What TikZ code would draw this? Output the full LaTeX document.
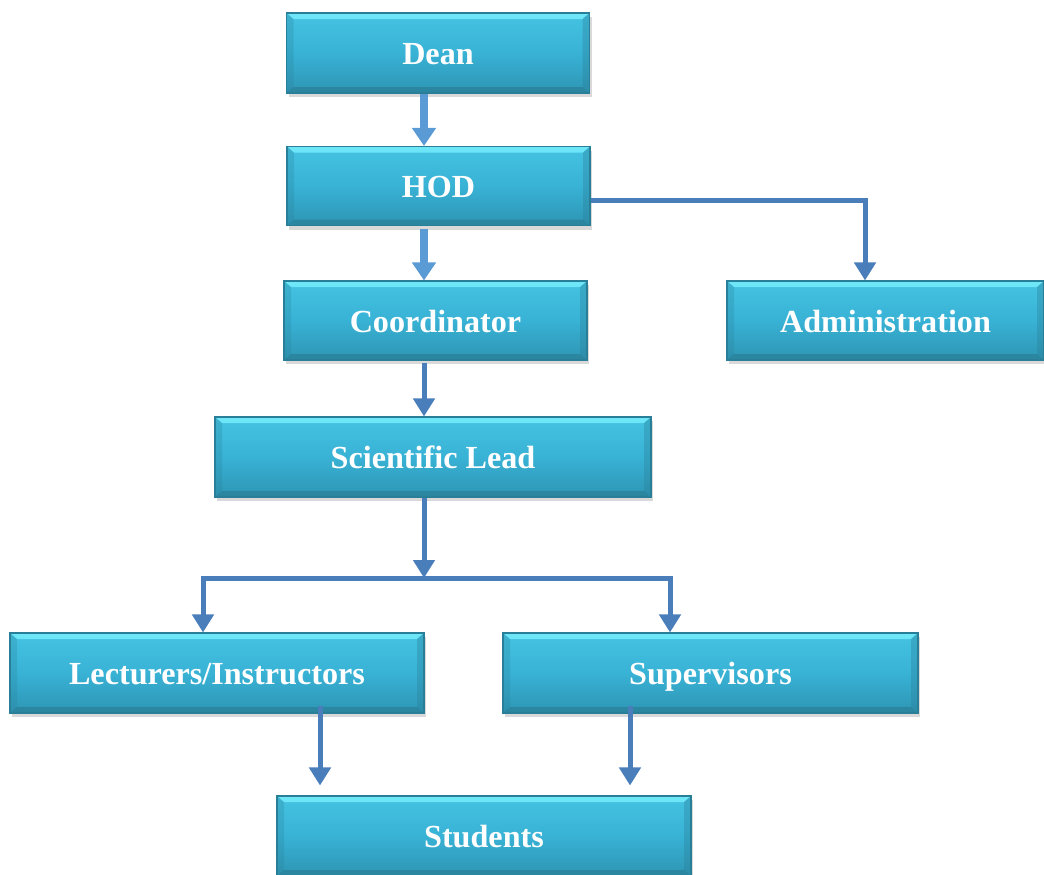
\documentclass[tikz,border=0pt]{standalone}
\usepackage{fontspec}
\setmainfont{Liberation Serif}
\usepackage{xcolor}
\usepackage{tikz}
\usetikzlibrary{arrows.meta, shadows}

\definecolor{boxtop}{HTML}{45C3E2}
\definecolor{boxmid}{HTML}{38B2D5}
\definecolor{boxbot}{HTML}{2E95B3}
\definecolor{boxline}{HTML}{2A7F98}
\definecolor{boxlight}{HTML}{72EAFB}
\definecolor{lightarrow}{HTML}{5B9BD5}
\definecolor{darkarrow}{HTML}{4A7EBB}

\begin{document}
\begin{tikzpicture}[
    unit/.style={rectangle, draw=boxline, line width=0.6pt,
        top color=boxtop, bottom color=boxbot, middle color=boxmid,
        minimum height=1.6cm, text=white, text height=14pt, text depth=0.6pt,
        font=\bfseries\fontsize{18.3}{20}\selectfont,
        drop shadow={shadow xshift=0.04cm, shadow yshift=-0.08cm, opacity=0.3},
        path picture={
            % bevel: bright top edge, dark bottom edge
            \fill[boxlight, opacity=0.9]
                (path picture bounding box.north west) -- (path picture bounding box.north east)
                -- ([shift={(-0.14,-0.12)}]path picture bounding box.north east)
                -- ([shift={(0.14,-0.12)}]path picture bounding box.north west) -- cycle;
            \fill[boxline, opacity=0.7]
                (path picture bounding box.south west) -- (path picture bounding box.south east)
                -- ([shift={(-0.14,0.12)}]path picture bounding box.south east)
                -- ([shift={(0.14,0.12)}]path picture bounding box.south west) -- cycle;
            \fill[boxline, opacity=0.25]
                (path picture bounding box.north west) -- (path picture bounding box.south west)
                -- ([shift={(0.14,0.12)}]path picture bounding box.south west)
                -- ([shift={(0.14,-0.12)}]path picture bounding box.north west) -- cycle;
            \fill[boxline, opacity=0.35]
                (path picture bounding box.north east) -- (path picture bounding box.south east)
                -- ([shift={(-0.14,0.12)}]path picture bounding box.south east)
                -- ([shift={(-0.14,-0.12)}]path picture bounding box.north east) -- cycle;
        }},
    mainflow/.style={-{Triangle[width=0.46cm, length=0.36cm]}, draw=lightarrow, line width=0.16cm},
    flow/.style={-{Triangle[width=0.42cm, length=0.36cm]}, draw=darkarrow, line width=0.1cm},
    link/.style={draw=darkarrow, line width=0.1cm, line cap=rect}
]
\useasboundingbox (0,0) rectangle (20.88,-17.48);

% boxes
\node[unit, minimum width=6.06cm] (dean) at (8.76,-1.06) {Dean};
\node[unit, minimum width=6.06cm, minimum height=1.58cm] (hod) at (8.77,-3.72) {HOD};
\node[unit, minimum width=6.06cm, minimum height=1.58cm] (coord) at (8.71,-6.41) {Coordinator};
\node[unit, minimum width=6.34cm, minimum height=1.58cm] (admin) at (17.71,-6.41) {Administration};
\node[unit, minimum width=8.72cm] (sci) at (8.66,-9.14) {Scientific Lead};
\node[unit, minimum width=8.28cm] (lect) at (4.34,-13.46) {Lecturers/Instructors};
\node[unit, minimum width=8.3cm] (sup) at (14.21,-13.46) {Supervisors};
\node[unit, minimum width=8.28cm] (stud) at (9.68,-16.72) {Students};

% helper points
\coordinate (spine) at (8.48,0);
\coordinate (split) at (8.48,-11.56);
\coordinate (lbranch) at (4.06,-11.56);
\coordinate (rbranch) at (13.4,-11.56);
\coordinate (lstud) at (6.4,0);
\coordinate (rstud) at (12.6,0);

% connectors
\draw[mainflow] (dean.south -| spine) -- (hod.north -| spine);
\draw[mainflow] ([yshift=-0.06cm]hod.south -| spine) -- (coord.north -| spine);
\draw[flow] ([yshift=-0.28cm]hod.east) -| ([xshift=-0.41cm]admin.north);
\draw[flow] ([yshift=-0.04cm]coord.south -| spine) -- (sci.north -| spine);

\draw[link] (lbranch) -- (rbranch);
\draw[flow] (sci.south -| spine) -- (split);
\draw[flow] (lbranch) -- (lbranch |- lect.north);
\draw[flow] (rbranch) -- (rbranch |- sup.north);

\draw[flow, shorten >=0.2cm] ([yshift=0.16cm]lect.south -| lstud) -- (stud.north -| lstud);
\draw[flow, shorten >=0.2cm] ([yshift=0.16cm]sup.south -| rstud) -- (stud.north -| rstud);

\end{tikzpicture}
\end{document}
